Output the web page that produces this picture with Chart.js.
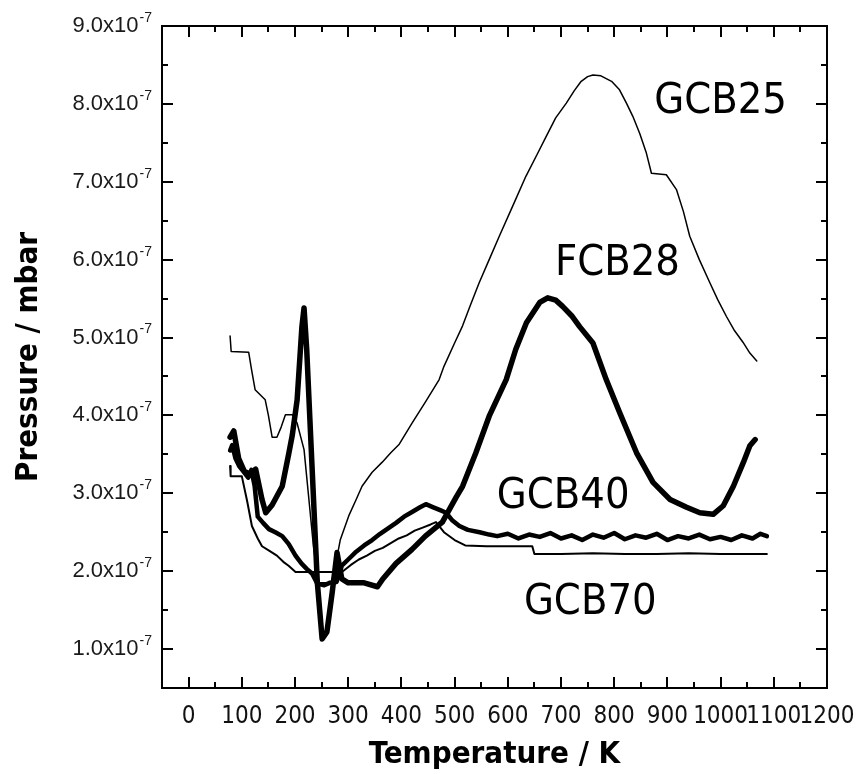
<!DOCTYPE html>
<html>
<head>
<meta charset="utf-8">
<script src="https://cdn.jsdelivr.net/npm/chart.js@4.4.0/dist/chart.umd.min.js"></script>
<style>
  html, body { margin: 0; padding: 0; background: #fff; }
  #wrap { width: 862px; height: 774px; }
</style>
</head>
<body>
<div id="wrap"><canvas id="tdsChart"></canvas></div>
<script>
// axis ticks
const xTicks = [0, 100, 200, 300, 400, 500, 600, 700, 800, 900, 1000, 1100, 1200];
const yTicks = [1, 2, 3, 4, 5, 6, 7, 8, 9];
const yTickText = ['1.0x10', '2.0x10', '3.0x10', '4.0x10', '5.0x10', '6.0x10', '7.0x10', '8.0x10', '9.0x10'];
const yTickExp = '-7';

// series: temperature (K) and pressure (x10^-7 mbar)
const gcb25T = [78, 80, 113, 118, 125, 144, 150, 157, 166, 174, 182, 195, 204, 217, 225, 235, 245, 268, 276, 285, 301, 315, 326, 345, 364, 380, 396, 420, 445, 471, 480, 500, 515, 530, 546, 565, 584, 610, 634, 655, 672, 690, 710, 725, 738, 750, 760, 775, 795, 810, 823, 835, 848, 860, 870, 898, 917, 930, 942, 960, 980, 995, 1011, 1025, 1042, 1055, 1068];
const gcb25P = [5.02, 4.82, 4.81, 4.60, 4.33, 4.20, 4.00, 3.72, 3.72, 3.85, 4.01, 4.01, 3.90, 3.56, 3.00, 2.30, 1.85, 1.85, 2.07, 2.40, 2.71, 2.92, 3.09, 3.27, 3.40, 3.52, 3.63, 3.90, 4.17, 4.46, 4.63, 4.93, 5.15, 5.42, 5.70, 6.00, 6.30, 6.70, 7.07, 7.35, 7.58, 7.82, 8.01, 8.17, 8.29, 8.35, 8.37, 8.36, 8.29, 8.18, 8.01, 7.84, 7.62, 7.38, 7.11, 7.09, 6.90, 6.62, 6.30, 6.00, 5.70, 5.48, 5.27, 5.10, 4.94, 4.80, 4.70];

const fcb28T = [78, 85, 94, 105, 115, 126, 138, 145, 157, 176, 188, 195, 204, 213, 217, 222, 232, 242, 251, 260, 270, 279, 288, 300, 330, 355, 365, 390, 420, 445, 477, 503, 515, 540, 565, 597, 615, 635, 660, 675, 690, 703, 720, 735, 760, 785, 810, 842, 873, 905, 936, 961, 986, 1005, 1024, 1043, 1055, 1065];
const fcb28P = [3.72, 3.80, 3.45, 3.28, 3.25, 3.31, 2.92, 2.75, 2.85, 3.09, 3.50, 3.75, 4.20, 5.14, 5.38, 4.85, 3.35, 1.85, 1.13, 1.22, 1.73, 2.24, 1.90, 1.85, 1.85, 1.80, 1.90, 2.10, 2.28, 2.45, 2.63, 2.95, 3.09, 3.52, 3.99, 4.46, 4.85, 5.19, 5.45, 5.51, 5.48, 5.40, 5.28, 5.14, 4.93, 4.46, 4.04, 3.52, 3.14, 2.92, 2.82, 2.75, 2.73, 2.84, 3.09, 3.40, 3.61, 3.69];

const gcb40T = [78, 82, 88, 95, 103, 112, 118, 124, 130, 140, 151, 163, 176, 188, 201, 212, 222, 232, 242, 255, 265, 278, 288, 300, 315, 330, 345, 360, 375, 390, 405, 420, 435, 446, 460, 474, 484, 496, 509, 525, 547, 565, 580, 600, 620, 640, 660, 680, 700, 720, 740, 760, 780, 800, 820, 840, 860, 880, 900, 920, 940, 960, 980, 1000, 1020, 1040, 1060, 1075, 1087];
const gcb40P = [3.55, 3.62, 3.45, 3.35, 3.28, 3.20, 3.30, 3.10, 2.70, 2.62, 2.54, 2.50, 2.45, 2.35, 2.20, 2.10, 2.03, 1.97, 1.84, 1.82, 1.85, 1.86, 2.07, 2.15, 2.25, 2.33, 2.40, 2.48, 2.55, 2.62, 2.70, 2.76, 2.82, 2.86, 2.82, 2.78, 2.75, 2.65, 2.58, 2.53, 2.50, 2.47, 2.45, 2.48, 2.42, 2.47, 2.44, 2.49, 2.42, 2.46, 2.40, 2.47, 2.43, 2.49, 2.41, 2.46, 2.43, 2.48, 2.40, 2.45, 2.42, 2.47, 2.41, 2.44, 2.40, 2.46, 2.42, 2.48, 2.45];

const gcb70T = [78, 79, 100, 110, 119, 130, 138, 152, 166, 178, 188, 201, 240, 276, 290, 305, 320, 335, 350, 365, 380, 395, 410, 425, 440, 455, 465, 480, 500, 520, 560, 600, 646, 650, 700, 760, 820, 880, 940, 1000, 1050, 1087];
const gcb70P = [3.35, 3.22, 3.22, 2.90, 2.58, 2.42, 2.32, 2.26, 2.20, 2.12, 2.07, 1.99, 1.99, 1.99, 2.00, 2.08, 2.15, 2.20, 2.26, 2.30, 2.36, 2.42, 2.46, 2.52, 2.56, 2.60, 2.63, 2.50, 2.40, 2.33, 2.32, 2.32, 2.32, 2.22, 2.22, 2.23, 2.22, 2.22, 2.23, 2.22, 2.22, 2.22];

// curve names placed in the plot (data coordinates)
const curveLabels = [
    { text: 'GCB25', t: 1000, p: 8.03 },
    { text: 'FCB28', t: 806, p: 5.94 },
    { text: 'GCB40', t: 704, p: 2.96 },
    { text: 'GCB70', t: 755, p: 1.60 }
];

const narrowFont = '"Liberation Sans Narrow", "DejaVu Sans Condensed", sans-serif';

function toPoints(ts, ps) {
    return ts.map((t, i) => ({ x: t, y: ps[i] }));
}

function lineSet(label, ts, ps, width) {
    return {
        label: label,
        data: toPoints(ts, ps),
        borderColor: '#000',
        borderWidth: width,
        pointRadius: 0,
        tension: 0,
        fill: false,
        borderJoinStyle: 'round',
        borderCapStyle: 'round'
    };
}

// frame, inward ticks, y labels with exponent, curve names
const framePlugin = {
    id: 'framePlugin',
    afterDraw(chart) {
        const ctx = chart.ctx;
        const area = chart.chartArea;
        const xs = chart.scales.x;
        const ys = chart.scales.y;
        ctx.save();
        ctx.strokeStyle = '#000';
        ctx.lineWidth = 2;
        ctx.strokeRect(area.left, area.top, area.right - area.left, area.bottom - area.top);

        ctx.beginPath();
        for (let v = 0; v < 1200; v += 50) {
            const px = Math.round(xs.getPixelForValue(v));
            const len = v % 100 === 0 ? 11 : 6;
            ctx.moveTo(px, area.bottom);
            ctx.lineTo(px, area.bottom - len);
            ctx.moveTo(px, area.top);
            ctx.lineTo(px, area.top + len);
        }
        for (let v = 1; v < 9; v += 0.5) {
            const py = Math.round(ys.getPixelForValue(v));
            const len = v % 1 === 0 ? 11 : 6;
            ctx.moveTo(area.left, py);
            ctx.lineTo(area.left + len, py);
            ctx.moveTo(area.right, py);
            ctx.lineTo(area.right - len, py);
        }
        ctx.stroke();

        // y tick labels
        ctx.fillStyle = '#1a1a1a';
        ctx.textBaseline = 'middle';
        ctx.textAlign = 'right';
        const rightEdge = area.left - 10;
        yTicks.forEach((v, i) => {
            const py = ys.getPixelForValue(v);
            ctx.font = '14px "Liberation Sans", Arial, sans-serif';
            const expW = ctx.measureText(yTickExp).width;
            ctx.fillText(yTickExp, rightEdge, py - 8);
            ctx.font = '22px "Liberation Sans", Arial, sans-serif';
            ctx.fillText(yTickText[i], rightEdge - expW - 1, py);
        });

        // curve names
        ctx.fillStyle = '#000';
        ctx.textAlign = 'center';
        ctx.font = '43px ' + narrowFont;
        curveLabels.forEach(l => {
            ctx.fillText(l.text, xs.getPixelForValue(l.t), ys.getPixelForValue(l.p));
        });
        ctx.restore();
    }
};

const ctx = document.getElementById('tdsChart').getContext('2d');
new Chart(ctx, {
    type: 'line',
    data: {
        datasets: [
            lineSet('GCB25', gcb25T, gcb25P, 1.5),
            lineSet('GCB70', gcb70T, gcb70P, 2),
            lineSet('GCB40', gcb40T, gcb40P, 4.5),
            lineSet('FCB28', fcb28T, fcb28P, 5.5)
        ]
    },
    options: {
        animation: false,
        responsive: true,
        maintainAspectRatio: false,
        layout: { padding: { top: 26, right: 35, left: 0, bottom: 0 } },
        plugins: {
            legend: { display: false },
            tooltip: { enabled: false }
        },
        scales: {
            x: {
                type: 'linear',
                min: -50,
                max: 1200,
                afterBuildTicks: s => { s.ticks = xTicks.map(v => ({ value: v })); },
                afterFit: s => { s.height = 86; },
                ticks: {
                    color: '#111',
                    font: { family: narrowFont, size: 24 },
                    padding: 6,
                    maxRotation: 0,
                    autoSkip: false,
                    callback: v => String(v)
                },
                grid: { display: false },
                border: { display: false },
                title: {
                    display: true,
                    text: 'Temperature / K',
                    color: '#000',
                    font: { family: narrowFont, size: 31, weight: 'bold' },
                    padding: { top: 0, bottom: 0 }
                }
            },
            y: {
                type: 'linear',
                min: 0.5,
                max: 9.0,
                afterFit: s => { s.width = 162; },
                ticks: { display: false },
                grid: { display: false },
                border: { display: false },
                title: {
                    display: true,
                    text: 'Pressure / mbar',
                    color: '#000',
                    font: { family: narrowFont, size: 31, weight: 'bold' },
                    padding: { top: 10, bottom: 0 }
                }
            }
        }
    },
    plugins: [framePlugin]
});
</script>
</body>
</html>
